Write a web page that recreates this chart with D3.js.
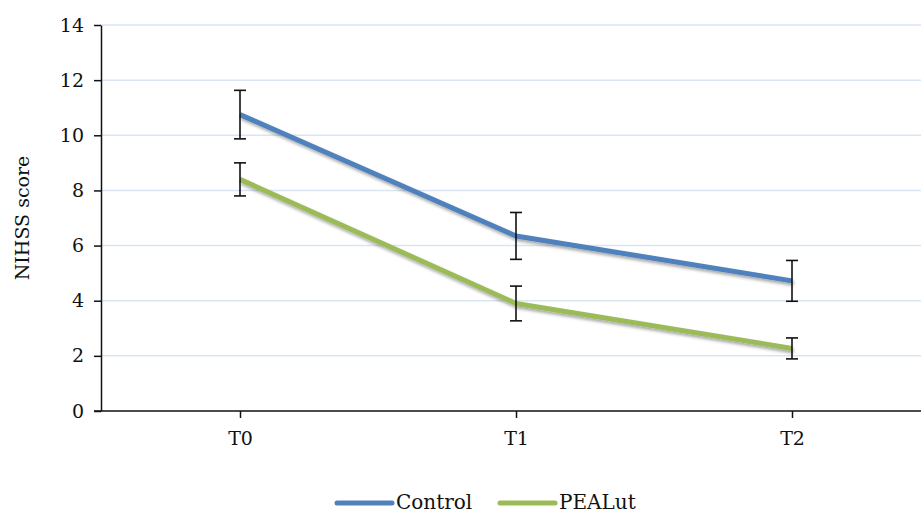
<!DOCTYPE html>
<html>
<head>
<meta charset="utf-8">
<script src="https://cdn.jsdelivr.net/npm/d3@7"></script>
<style>
  body { margin: 0; background: #fff; }
  svg text { font-family: "DejaVu Serif", "Liberation Serif", serif; fill: #111; }
</style>
</head>
<body>
<div id="chart"></div>
<script>
// data
const times = ['T0', 'T1', 'T2'];
const controlMean = [10.75, 6.35, 4.72];
const controlErr = [0.88, 0.85, 0.74];
const pealutMean = [8.4, 3.9, 2.27];
const pealutErr = [0.6, 0.63, 0.38];
const yTicks = [0, 2, 4, 6, 8, 10, 12, 14];

const width = 921, height = 513;
const svg = d3.select('#chart').append('svg')
  .attr('width', width)
  .attr('height', height);

// shadow under the lines
const defs = svg.append('defs');
const filt = defs.append('filter').attr('id', 'shadow')
  .attr('x', '-5%').attr('y', '-20%').attr('width', '110%').attr('height', '140%');
filt.append('feDropShadow')
  .attr('dx', 1.5).attr('dy', 2.5).attr('stdDeviation', 1.8)
  .attr('flood-color', '#000').attr('flood-opacity', 0.35);

const x = d3.scalePoint().domain(times).range([240, 792]);
const y = d3.scaleLinear().domain([0, 14]).range([411, 25]);
const xLeft = 101;

// gridlines
svg.append('g')
  .selectAll('line')
  .data(yTicks.filter(d => d > 0))
  .enter()
  .append('line')
  .attr('x1', xLeft).attr('x2', width)
  .attr('y1', d => y(d)).attr('y2', d => y(d))
  .attr('stroke', '#dae5f3')
  .attr('stroke-width', 1.5);

// y axis
const yAxis = svg.append('g')
  .attr('transform', 'translate(' + xLeft + ',0)')
  .call(d3.axisLeft(y).tickValues(yTicks).tickSize(7).tickPadding(10).tickSizeOuter(0));
yAxis.select('.domain').attr('stroke', '#111').attr('stroke-width', 1.5);
yAxis.selectAll('.tick line').attr('stroke', '#111').attr('stroke-width', 1.5);
yAxis.selectAll('.tick text').style('font-size', '19px').attr('fill', '#111');

// x axis
const xAxis = svg.append('g')
  .attr('transform', 'translate(0,' + y(0) + ')');
xAxis.append('line')
  .attr('x1', xLeft - 7).attr('x2', width)
  .attr('stroke', '#111').attr('stroke-width', 1.5);
xAxis.call(d3.axisBottom(x).tickSize(7).tickPadding(14));
xAxis.select('.domain').remove();
xAxis.selectAll('.tick line').attr('stroke', '#111').attr('stroke-width', 1.5);
xAxis.selectAll('.tick text').style('font-size', '19px').attr('fill', '#111');

// y label
svg.append('text')
  .attr('transform', 'translate(29,' + y(7) + ') rotate(-90)')
  .attr('text-anchor', 'middle')
  .style('font-size', '19px')
  .text('NIHSS score');

const series = [
  { name: 'Control', mean: controlMean, err: controlErr, color: '#4f81bd' },
  { name: 'PEALut', mean: pealutMean, err: pealutErr, color: '#9bbb59' }
];

const line = d3.line()
  .x((d, i) => x(times[i]))
  .y(d => y(d));

series.forEach(s => {
  svg.append('path')
    .attr('d', line(s.mean))
    .attr('fill', 'none')
    .attr('stroke', s.color)
    .attr('stroke-width', 5)
    .attr('stroke-linejoin', 'round')
    .attr('filter', 'url(#shadow)');
});

// error bars
series.forEach(s => {
  const g = svg.append('g').selectAll('g')
    .data(s.mean.map((m, i) => ({ t: times[i], m: m, e: s.err[i] })))
    .enter().append('g');
  g.append('line')
    .attr('x1', d => x(d.t)).attr('x2', d => x(d.t))
    .attr('y1', d => y(d.m + d.e)).attr('y2', d => y(d.m - d.e))
    .attr('stroke', '#111').attr('stroke-width', 1.6);
  [1, -1].forEach(sgn => {
    g.append('line')
      .attr('x1', d => x(d.t) - 6).attr('x2', d => x(d.t) + 6)
      .attr('y1', d => y(d.m + sgn * d.e)).attr('y2', d => y(d.m + sgn * d.e))
      .attr('stroke', '#111').attr('stroke-width', 1.6);
  });
});

// legend
const legend = svg.append('g').attr('transform', 'translate(337,509)');
const items = legend.selectAll('g').data(series).enter().append('g')
  .attr('transform', (d, i) => 'translate(' + i * 163 + ',0)');
items.append('line')
  .attr('x1', 0).attr('x2', 55)
  .attr('y1', -6).attr('y2', -6)
  .attr('stroke', d => d.color)
  .attr('stroke-width', 5)
  .attr('stroke-linecap', 'round');
items.append('text')
  .attr('x', 59).attr('y', 0)
  .style('font-size', '20px')
  .text(d => d.name);
</script>
</body>
</html>
